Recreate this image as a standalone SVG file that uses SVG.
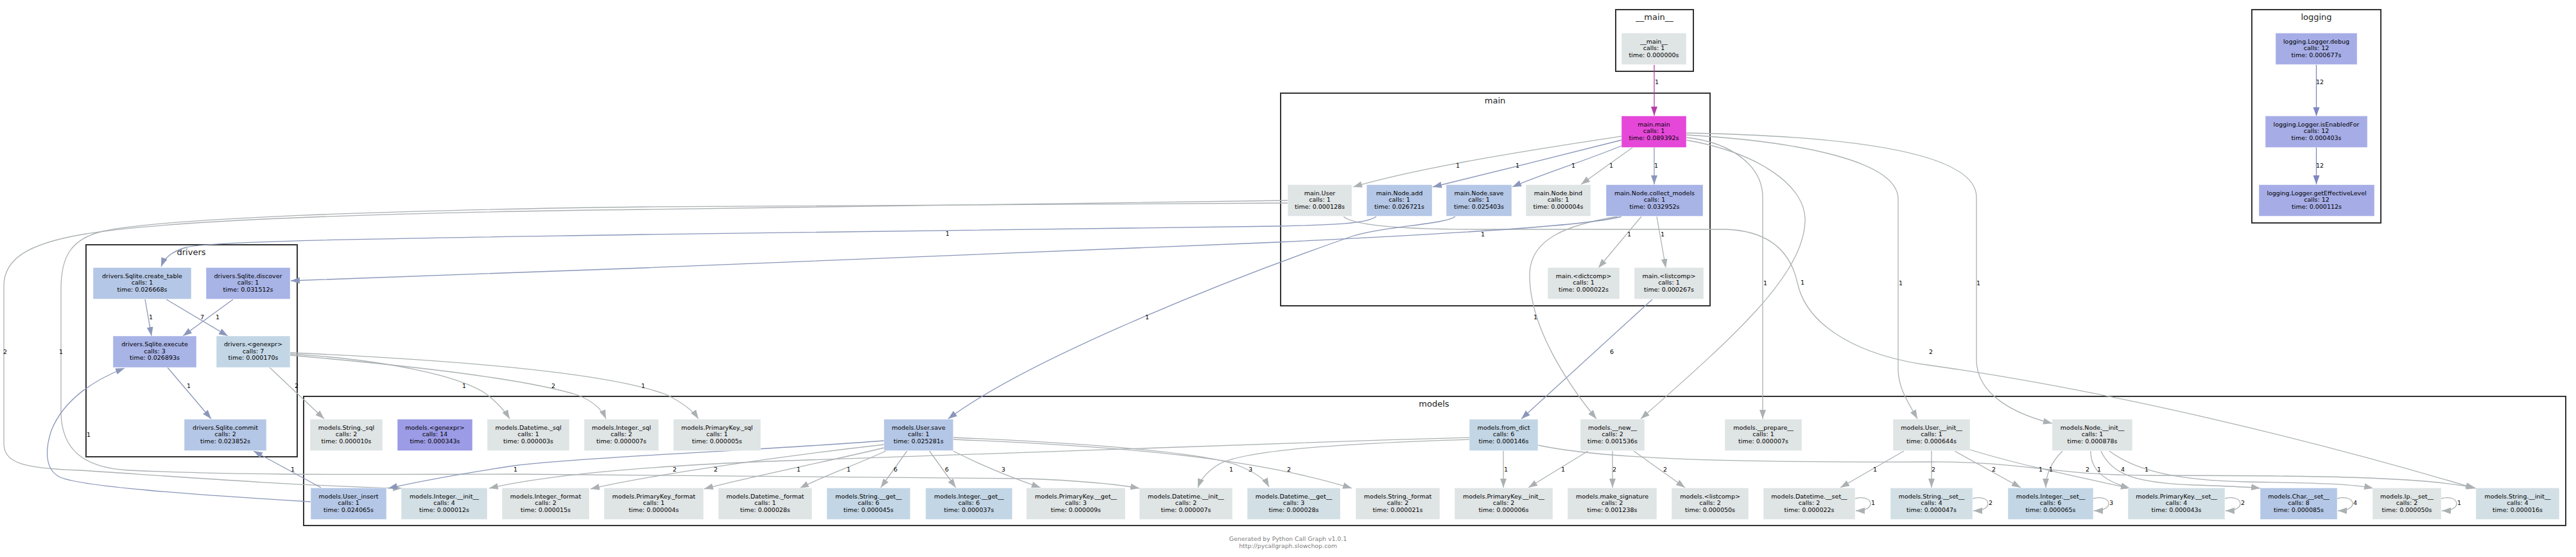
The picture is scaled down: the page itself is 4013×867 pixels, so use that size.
<svg xmlns="http://www.w3.org/2000/svg" width="4013" height="867" viewBox="0 0 4013 867">
<style>
text{font-family:"DejaVu Sans",Verdana,sans-serif;fill:#000}
.nt{font-size:9.5px;text-anchor:middle}
.el{font-size:9.5px;text-anchor:middle}
.cl{font-size:13px;text-anchor:middle;fill:#222}
.ft{font-size:9.33px;text-anchor:middle;fill:#808080}
.cluster{fill:none;stroke:#333;stroke-width:2}
rect.n{stroke:#ffffff;stroke-opacity:0.45;stroke-width:1}
.n0{fill:#dfe4e5}.n1{fill:#d2dfe5}.n2{fill:#c3d6e5}.n3{fill:#b5c7e6}.n4{fill:#a8b3e6}.n4l{fill:#a6ade6}.n5{fill:#9c9be5}.n6{fill:#e548d8}
.eg{fill:none;stroke:#abb1b3;stroke-width:1.3;marker-end:url(#ag)}
.eb{fill:none;stroke:#8b97ba;stroke-width:1.3;marker-end:url(#ab)}
.em{fill:none;stroke:#b23fa9;stroke-width:1.3;marker-end:url(#am)}
.elg{fill:none;stroke:#7f86c1;stroke-width:1.3;marker-end:url(#al)}
</style>
<defs>
<marker id="ag" markerUnits="userSpaceOnUse" markerWidth="15" markerHeight="11" refX="14" refY="5" orient="auto"><path d="M0,0 L14,5 L0,10 z" fill="#abb1b3"/></marker>
<marker id="ab" markerUnits="userSpaceOnUse" markerWidth="15" markerHeight="11" refX="14" refY="5" orient="auto"><path d="M0,0 L14,5 L0,10 z" fill="#8b97ba"/></marker>
<marker id="am" markerUnits="userSpaceOnUse" markerWidth="15" markerHeight="11" refX="14" refY="5" orient="auto"><path d="M0,0 L14,5 L0,10 z" fill="#b23fa9"/></marker>
<marker id="al" markerUnits="userSpaceOnUse" markerWidth="15" markerHeight="11" refX="14" refY="5" orient="auto"><path d="M0,0 L14,5 L0,10 z" fill="#7f86c1"/></marker>
</defs>
<rect x="0" y="0" width="4013" height="867" fill="#ffffff"/>

<g id="clusters">
<g id="cluster___main__"><rect class="cluster" x="2517" y="15" width="121" height="96"/><text class="cl" x="2577.5" y="31">__main__</text></g>
<g id="cluster_main"><rect class="cluster" x="1995" y="145" width="669" height="331"/><text class="cl" x="2329" y="161">main</text></g>
<g id="cluster_logging"><rect class="cluster" x="3508" y="15" width="201" height="332"/><text class="cl" x="3608.5" y="31">logging</text></g>
<g id="cluster_drivers"><rect class="cluster" x="134" y="381" width="329" height="330"/><text class="cl" x="298" y="397">drivers</text></g>
<g id="cluster_models"><rect class="cluster" x="473" y="617" width="3524" height="201"/><text class="cl" x="2234" y="633">models</text></g>
</g>

<g id="edges">
<path class="em" d="M2577,101 L2577,180"/><text class="el" x="2581" y="130.5">1</text>
<path class="elg" d="M3608.5,101 L3608.5,181"/><text class="el" x="3614" y="130.5">12</text>
<path class="elg" d="M3608.5,229 L3608.5,287"/><text class="el" x="3614" y="260.5">12</text>

<path class="eg" d="M2526,212 C2420,228 2220,258 2108,291"/><text class="el" x="2271" y="260.5">1</text>
<path class="eb" d="M2526,218 C2440,240 2310,272 2232,291"/><text class="el" x="2364" y="260.5">1</text>
<path class="eb" d="M2526,227 C2470,250 2400,272 2356,291"/><text class="el" x="2451" y="260.5">1</text>
<path class="eg" d="M2544,229 L2463,287"/><text class="el" x="2510" y="260.5">1</text>
<path class="eb" d="M2577,229 L2577,287"/><text class="el" x="2580" y="260.5">1</text>
<path class="eg" d="M2557,337 L2490,417"/><text class="el" x="2538" y="367.5">1</text>
<path class="eg" d="M2581,337 L2595,417"/><text class="el" x="2590" y="367.5">1</text>
<path class="eb" d="M2574,466 L2370,652"/><text class="el" x="2511" y="550.5">6</text>
<path class="eg" d="M2520,337 C2440,350 2385,372 2383,425 C2381,505 2440,595 2487,652"/><text class="el" x="2392" y="496.5">1</text>
<path class="eg" d="M2627,218 C2740,238 2815,290 2812,345 C2808,430 2700,525 2556,652"/><text class="el" x="2808" y="442.5">1</text>
<path class="eg" d="M2627,214 C2700,222 2746,260 2746,307 L2746,652"/><text class="el" x="2750" y="443.5">1</text>
<path class="eg" d="M2627,210 C2800,220 2957,250 2957,310 L2957,575 C2957,605 2975,630 2987,652"/><text class="el" x="2961" y="443.5">1</text>
<path class="eg" d="M2627,207 C2900,212 3079,240 3079,307 L3079,560 C3079,615 3140,645 3197,659"/><text class="el" x="3082" y="443.5">1</text>
<path class="eg" d="M2093,337 C2110,352 2200,357 2300,357 L2690,357 C2760,360 2790,395 2800,440 C2815,510 2900,555 3009,569 C3300,610 3620,690 3855,760"/><text class="el" x="3008" y="550.5">2</text>
<path class="eg" d="M2006,312 L1003,326 C600,331 260,342 128,365 C40,380 6,405 6,445 L6,690 C6,722 40,729 122,732 C200,736 420,755 626,760"/><text class="el" x="8" y="550.5">2</text>
<path class="eg" d="M2006,316 L1003,322 C600,327 250,340 160,360 C110,372 95,400 95,450 L95,640 C95,700 130,728 200,732 C400,741 600,738 800,738 C1200,740 1500,742 1600,745 C1680,748 1730,752 1775,760"/><text class="el" x="95" y="550.5">1</text>
<path class="eb" d="M2144,337 C2130,348 2080,350 1990,352 L1003,365 C700,370 330,374 290,385 C266,392 256,402 251,415"/><text class="el" x="1476" y="366.5">1</text>
<path class="eb" d="M2526,337 C2480,350 2300,362 1990,377 L1003,417 C800,425 600,432 453,437"/><text class="el" x="2310" y="367.5">1</text>
<path class="eb" d="M2267,337 C2250,350 2150,352 2100,370 C1900,440 1600,560 1477,652"/><text class="el" x="1787" y="496.5">1</text>

<path class="eb" d="M226,466 L236,523"/><text class="el" x="235" y="496.5">1</text>
<path class="eb" d="M259,466 L355,523"/><text class="el" x="315" y="496.5">7</text>
<path class="eb" d="M363,466 L285,523"/><text class="el" x="339" y="496.5">1</text>
<path class="eb" d="M261,572 L329,652"/><text class="el" x="294" y="603.5">1</text>
<path class="eg" d="M420,572 L505,652"/><text class="el" x="462" y="603.5">2</text>
<path class="eg" d="M452,551 C600,560 720,585 760,615 C778,630 788,642 794,652"/><text class="el" x="723" y="603.5">1</text>
<path class="eg" d="M452,553 C650,570 820,590 900,615 C925,625 938,638 944,652"/><text class="el" x="862" y="603.5">2</text>
<path class="eg" d="M452,549 C700,560 950,580 1040,615 C1065,628 1080,640 1088,652"/><text class="el" x="1002" y="603.5">1</text>
<path class="eb" d="M500,759 L395,702"/><text class="el" x="456" y="733.5">1</text>
<path class="eb" d="M484,781 C300,770 120,757 92,742 C70,730 70,700 80,670 C100,620 150,590 194,573"/><text class="el" x="138" y="679.5">1</text>

<path class="eb" d="M1377,686 C1200,700 900,712 800,725 C700,740 650,750 605,760"/><text class="el" x="803" y="733.5">1</text>
<path class="eg" d="M1377,692 C1200,712 1000,742 920,761"/><text class="el" x="1115" y="733.5">2</text>
<path class="eg" d="M1377,697 C1300,716 1150,746 1097,761"/><text class="el" x="1244" y="733.5">1</text>
<path class="eg" d="M1380,702 C1330,725 1280,742 1246,760"/><text class="el" x="1322" y="733.5">1</text>
<path class="eg" d="M1413,702 L1372,759"/><text class="el" x="1395" y="733.5">6</text>
<path class="eg" d="M1448,702 L1489,759"/><text class="el" x="1475" y="733.5">6</text>
<path class="eg" d="M1485,702 C1530,725 1580,745 1621,759"/><text class="el" x="1563" y="733.5">3</text>
<path class="eg" d="M1485,681 C1700,690 1880,705 1930,725 C1955,735 1970,745 1977,758"/><text class="el" x="1948" y="733.5">3</text>
<path class="eg" d="M1485,684 C1750,695 1950,712 2106,760"/><text class="el" x="2008" y="733.5">2</text>
<path class="eg" d="M2289,681 C1900,692 1500,705 1200,718 C1000,726 850,740 762,760"/><text class="el" x="1051" y="733.5">2</text>
<path class="eg" d="M2289,684 C2100,690 1930,700 1895,725 C1880,735 1870,748 1866,759"/><text class="el" x="1918" y="733.5">1</text>
<path class="eg" d="M2342,701 L2342,759"/><text class="el" x="2346" y="733.5">1</text>
<path class="eg" d="M2396,693 C2500,715 2700,720 3009,719 C3150,718 3200,740 3350,740 C3600,740 3780,742 3857,760"/><text class="el" x="3252" y="733.5">2</text>
<path class="eg" d="M2474,702 L2381,759"/><text class="el" x="2435" y="733.5">1</text>
<path class="eg" d="M2512,702 L2512,759"/><text class="el" x="2515" y="733.5">2</text>
<path class="eg" d="M2545,702 L2625,759"/><text class="el" x="2594" y="733.5">2</text>
<path class="eg" d="M2966,702 L2867,759"/><text class="el" x="2921" y="733.5">1</text>
<path class="eg" d="M3009,702 L3009,759"/><text class="el" x="3012" y="733.5">2</text>
<path class="eg" d="M3045,702 L3148,759"/><text class="el" x="3106" y="733.5">2</text>
<path class="eg" d="M3069,700 C3150,725 3250,745 3318,760"/><text class="el" x="3179" y="733.5">1</text>
<path class="eg" d="M3213,702 C3195,720 3187,738 3187,759"/><text class="el" x="3195" y="733.5">1</text>
<path class="eg" d="M3257,702 C3257,728 3272,747 3318,760"/><text class="el" x="3270" y="733.5">1</text>
<path class="eg" d="M3273,702 C3290,740 3330,752 3420,755 C3480,757 3505,758 3521,760"/><text class="el" x="3307" y="733.5">4</text>
<path class="eg" d="M3286,702 C3330,735 3400,748 3500,750 C3600,752 3660,752 3697,760"/><text class="el" x="3344" y="733.5">1</text>

<path class="eg" d="M2890,776 C2906,772 2914,778 2914,784 C2914,791 2904,795 2891,795"/><text class="el" x="2918" y="785.5">1</text>
<path class="eg" d="M3073,776 C3089,772 3097,778 3097,784 C3097,791 3087,795 3074,795"/><text class="el" x="3101" y="785.5">2</text>
<path class="eg" d="M3261,776 C3277,772 3285,778 3285,784 C3285,791 3275,795 3262,795"/><text class="el" x="3289" y="785.5">3</text>
<path class="eg" d="M3466,776 C3482,772 3490,778 3490,784 C3490,791 3480,795 3467,795"/><text class="el" x="3494" y="785.5">2</text>
<path class="eg" d="M3641,776 C3657,772 3665,778 3665,784 C3665,791 3655,795 3642,795"/><text class="el" x="3669" y="785.5">4</text>
<path class="eg" d="M3803,776 C3819,772 3827,778 3827,784 C3827,791 3817,795 3804,795"/><text class="el" x="3831" y="785.5">1</text>
</g>

<g id="node___main__"><rect class="n n0" x="2526" y="51.5" width="101" height="49"/><text class="nt"><tspan x="2576.5" y="67.5">__main__</tspan><tspan x="2576.5" y="78">calls: 1</tspan><tspan x="2576.5" y="88.5">time: 0.000000s</tspan></text></g>
<g id="node_logging.Logger.debug"><rect class="n n4l" x="3545" y="51.5" width="127" height="49"/><text class="nt"><tspan x="3608.5" y="67.5">logging.Logger.debug</tspan><tspan x="3608.5" y="78">calls: 12</tspan><tspan x="3608.5" y="88.5">time: 0.000677s</tspan></text></g>
<g id="node_logging.Logger.isEnabledFor"><rect class="n n4l" x="3529" y="180.5" width="159" height="49"/><text class="nt"><tspan x="3608.5" y="196.5">logging.Logger.isEnabledFor</tspan><tspan x="3608.5" y="207">calls: 12</tspan><tspan x="3608.5" y="217.5">time: 0.000403s</tspan></text></g>
<g id="node_logging.Logger.getEffectiveLevel"><rect class="n n4l" x="3519" y="287.5" width="180" height="49"/><text class="nt"><tspan x="3609" y="303.5">logging.Logger.getEffectiveLevel</tspan><tspan x="3609" y="314">calls: 12</tspan><tspan x="3609" y="324.5">time: 0.000112s</tspan></text></g>

<g id="node_main.main"><rect class="n n6" x="2526" y="180.5" width="101" height="49"/><text class="nt"><tspan x="2576.5" y="196.5">main.main</tspan><tspan x="2576.5" y="207">calls: 1</tspan><tspan x="2576.5" y="217.5">time: 0.089392s</tspan></text></g>
<g id="node_main.User"><rect class="n n0" x="2006" y="287.5" width="100" height="49"/><text class="nt"><tspan x="2056" y="303.5">main.User</tspan><tspan x="2056" y="314">calls: 1</tspan><tspan x="2056" y="324.5">time: 0.000128s</tspan></text></g>
<g id="node_main.Node.add"><rect class="n n3" x="2129" y="287.5" width="102" height="49"/><text class="nt"><tspan x="2180" y="303.5">main.Node.add</tspan><tspan x="2180" y="314">calls: 1</tspan><tspan x="2180" y="324.5">time: 0.026721s</tspan></text></g>
<g id="node_main.Node.save"><rect class="n n3" x="2253" y="287.5" width="102" height="49"/><text class="nt"><tspan x="2304" y="303.5">main.Node.save</tspan><tspan x="2304" y="314">calls: 1</tspan><tspan x="2304" y="324.5">time: 0.025403s</tspan></text></g>
<g id="node_main.Node.bind"><rect class="n n0" x="2377" y="287.5" width="101" height="49"/><text class="nt"><tspan x="2427.5" y="303.5">main.Node.bind</tspan><tspan x="2427.5" y="314">calls: 1</tspan><tspan x="2427.5" y="324.5">time: 0.000004s</tspan></text></g>
<g id="node_main.Node.collect_models"><rect class="n n4" x="2502" y="287.5" width="151" height="49"/><text class="nt"><tspan x="2577.5" y="303.5">main.Node.collect_models</tspan><tspan x="2577.5" y="314">calls: 1</tspan><tspan x="2577.5" y="324.5">time: 0.032952s</tspan></text></g>
<g id="node_main.dictcomp"><rect class="n n0" x="2411" y="416.5" width="112" height="49"/><text class="nt"><tspan x="2467" y="432.5">main.&lt;dictcomp&gt;</tspan><tspan x="2467" y="443">calls: 1</tspan><tspan x="2467" y="453.5">time: 0.000022s</tspan></text></g>
<g id="node_main.listcomp"><rect class="n n0" x="2546" y="416.5" width="108" height="49"/><text class="nt"><tspan x="2600" y="432.5">main.&lt;listcomp&gt;</tspan><tspan x="2600" y="443">calls: 1</tspan><tspan x="2600" y="453.5">time: 0.000267s</tspan></text></g>

<g id="node_drivers.Sqlite.create_table"><rect class="n n3" x="145" y="416.5" width="153" height="49"/><text class="nt"><tspan x="221.5" y="432.5">drivers.Sqlite.create_table</tspan><tspan x="221.5" y="443">calls: 1</tspan><tspan x="221.5" y="453.5">time: 0.026668s</tspan></text></g>
<g id="node_drivers.Sqlite.discover"><rect class="n n4" x="321" y="416.5" width="131" height="49"/><text class="nt"><tspan x="386.5" y="432.5">drivers.Sqlite.discover</tspan><tspan x="386.5" y="443">calls: 1</tspan><tspan x="386.5" y="453.5">time: 0.031512s</tspan></text></g>
<g id="node_drivers.Sqlite.execute"><rect class="n n4" x="176" y="523" width="130" height="49"/><text class="nt"><tspan x="241" y="539">drivers.Sqlite.execute</tspan><tspan x="241" y="549.5">calls: 3</tspan><tspan x="241" y="560">time: 0.026893s</tspan></text></g>
<g id="node_drivers.genexpr"><rect class="n n2" x="337" y="523" width="115" height="49"/><text class="nt"><tspan x="394.5" y="539">drivers.&lt;genexpr&gt;</tspan><tspan x="394.5" y="549.5">calls: 7</tspan><tspan x="394.5" y="560">time: 0.000170s</tspan></text></g>
<g id="node_drivers.Sqlite.commit"><rect class="n n3" x="287" y="652.5" width="128" height="49"/><text class="nt"><tspan x="351" y="668.5">drivers.Sqlite.commit</tspan><tspan x="351" y="679">calls: 2</tspan><tspan x="351" y="689.5">time: 0.023852s</tspan></text></g>

<g id="node_models.String._sql"><rect class="n n0" x="483" y="652.5" width="113" height="49"/><text class="nt"><tspan x="539.5" y="668.5">models.String._sql</tspan><tspan x="539.5" y="679">calls: 2</tspan><tspan x="539.5" y="689.5">time: 0.000010s</tspan></text></g>
<g id="node_models.genexpr"><rect class="n n5" x="619" y="652.5" width="117" height="49"/><text class="nt"><tspan x="677.5" y="668.5">models.&lt;genexpr&gt;</tspan><tspan x="677.5" y="679">calls: 14</tspan><tspan x="677.5" y="689.5">time: 0.000343s</tspan></text></g>
<g id="node_models.Datetime._sql"><rect class="n n0" x="759" y="652.5" width="128" height="49"/><text class="nt"><tspan x="823" y="668.5">models.Datetime._sql</tspan><tspan x="823" y="679">calls: 1</tspan><tspan x="823" y="689.5">time: 0.000003s</tspan></text></g>
<g id="node_models.Integer._sql"><rect class="n n0" x="910" y="652.5" width="116" height="49"/><text class="nt"><tspan x="968" y="668.5">models.Integer._sql</tspan><tspan x="968" y="679">calls: 2</tspan><tspan x="968" y="689.5">time: 0.000007s</tspan></text></g>
<g id="node_models.PrimaryKey._sql"><rect class="n n0" x="1049" y="652.5" width="136" height="49"/><text class="nt"><tspan x="1117" y="668.5">models.PrimaryKey._sql</tspan><tspan x="1117" y="679">calls: 1</tspan><tspan x="1117" y="689.5">time: 0.000005s</tspan></text></g>
<g id="node_models.User.save"><rect class="n n3" x="1377" y="652.5" width="108" height="49"/><text class="nt"><tspan x="1431" y="668.5">models.User.save</tspan><tspan x="1431" y="679">calls: 1</tspan><tspan x="1431" y="689.5">time: 0.025281s</tspan></text></g>
<g id="node_models.from_dict"><rect class="n n2" x="2289" y="652.5" width="107" height="49"/><text class="nt"><tspan x="2342.5" y="668.5">models.from_dict</tspan><tspan x="2342.5" y="679">calls: 6</tspan><tspan x="2342.5" y="689.5">time: 0.000146s</tspan></text></g>
<g id="node_models.__new__"><rect class="n n0" x="2462" y="652.5" width="100" height="49"/><text class="nt"><tspan x="2512" y="668.5">models.__new__</tspan><tspan x="2512" y="679">calls: 2</tspan><tspan x="2512" y="689.5">time: 0.001536s</tspan></text></g>
<g id="node_models.__prepare__"><rect class="n n0" x="2687" y="652.5" width="120" height="49"/><text class="nt"><tspan x="2747" y="668.5">models.__prepare__</tspan><tspan x="2747" y="679">calls: 1</tspan><tspan x="2747" y="689.5">time: 0.000007s</tspan></text></g>
<g id="node_models.User.__init__"><rect class="n n0" x="2949" y="652.5" width="120" height="49"/><text class="nt"><tspan x="3009" y="668.5">models.User.__init__</tspan><tspan x="3009" y="679">calls: 1</tspan><tspan x="3009" y="689.5">time: 0.000644s</tspan></text></g>
<g id="node_models.Node.__init__"><rect class="n n0" x="3197" y="652.5" width="125" height="49"/><text class="nt"><tspan x="3259.5" y="668.5">models.Node.__init__</tspan><tspan x="3259.5" y="679">calls: 1</tspan><tspan x="3259.5" y="689.5">time: 0.000878s</tspan></text></g>

<g id="node_models.User._insert"><rect class="n n3" x="484" y="759.5" width="118" height="49"/><text class="nt"><tspan x="543" y="775.5">models.User._insert</tspan><tspan x="543" y="786">calls: 1</tspan><tspan x="543" y="796.5">time: 0.024065s</tspan></text></g>
<g id="node_models.Integer.__init__"><rect class="n n1" x="625" y="759.5" width="134" height="49"/><text class="nt"><tspan x="692" y="775.5">models.Integer.__init__</tspan><tspan x="692" y="786">calls: 4</tspan><tspan x="692" y="796.5">time: 0.000012s</tspan></text></g>
<g id="node_models.Integer._format"><rect class="n n0" x="782" y="759.5" width="136" height="49"/><text class="nt"><tspan x="850" y="775.5">models.Integer._format</tspan><tspan x="850" y="786">calls: 2</tspan><tspan x="850" y="796.5">time: 0.000015s</tspan></text></g>
<g id="node_models.PrimaryKey._format"><rect class="n n0" x="941" y="759.5" width="155" height="49"/><text class="nt"><tspan x="1018.5" y="775.5">models.PrimaryKey._format</tspan><tspan x="1018.5" y="786">calls: 1</tspan><tspan x="1018.5" y="796.5">time: 0.000004s</tspan></text></g>
<g id="node_models.Datetime._format"><rect class="n n0" x="1119" y="759.5" width="146" height="49"/><text class="nt"><tspan x="1192" y="775.5">models.Datetime._format</tspan><tspan x="1192" y="786">calls: 1</tspan><tspan x="1192" y="796.5">time: 0.000028s</tspan></text></g>
<g id="node_models.String.__get__"><rect class="n n2" x="1288" y="759.5" width="130" height="49"/><text class="nt"><tspan x="1353" y="775.5">models.String.__get__</tspan><tspan x="1353" y="786">calls: 6</tspan><tspan x="1353" y="796.5">time: 0.000045s</tspan></text></g>
<g id="node_models.Integer.__get__"><rect class="n n2" x="1442" y="759.5" width="135" height="49"/><text class="nt"><tspan x="1509.5" y="775.5">models.Integer.__get__</tspan><tspan x="1509.5" y="786">calls: 6</tspan><tspan x="1509.5" y="796.5">time: 0.000037s</tspan></text></g>
<g id="node_models.PrimaryKey.__get__"><rect class="n n0" x="1599" y="759.5" width="154" height="49"/><text class="nt"><tspan x="1676" y="775.5">models.PrimaryKey.__get__</tspan><tspan x="1676" y="786">calls: 3</tspan><tspan x="1676" y="796.5">time: 0.000009s</tspan></text></g>
<g id="node_models.Datetime.__init__"><rect class="n n0" x="1775" y="759.5" width="145" height="49"/><text class="nt"><tspan x="1847.5" y="775.5">models.Datetime.__init__</tspan><tspan x="1847.5" y="786">calls: 2</tspan><tspan x="1847.5" y="796.5">time: 0.000007s</tspan></text></g>
<g id="node_models.Datetime.__get__"><rect class="n n1" x="1943" y="759.5" width="145" height="49"/><text class="nt"><tspan x="2015.5" y="775.5">models.Datetime.__get__</tspan><tspan x="2015.5" y="786">calls: 3</tspan><tspan x="2015.5" y="796.5">time: 0.000028s</tspan></text></g>
<g id="node_models.String._format"><rect class="n n0" x="2112" y="759.5" width="131" height="49"/><text class="nt"><tspan x="2177.5" y="775.5">models.String._format</tspan><tspan x="2177.5" y="786">calls: 2</tspan><tspan x="2177.5" y="796.5">time: 0.000021s</tspan></text></g>
<g id="node_models.PrimaryKey.__init__"><rect class="n n0" x="2266" y="759.5" width="153" height="49"/><text class="nt"><tspan x="2342.5" y="775.5">models.PrimaryKey.__init__</tspan><tspan x="2342.5" y="786">calls: 2</tspan><tspan x="2342.5" y="796.5">time: 0.000006s</tspan></text></g>
<g id="node_models.make_signature"><rect class="n n0" x="2442" y="759.5" width="139" height="49"/><text class="nt"><tspan x="2511.5" y="775.5">models.make_signature</tspan><tspan x="2511.5" y="786">calls: 2</tspan><tspan x="2511.5" y="796.5">time: 0.001238s</tspan></text></g>
<g id="node_models.listcomp"><rect class="n n0" x="2604" y="759.5" width="120" height="49"/><text class="nt"><tspan x="2664" y="775.5">models.&lt;listcomp&gt;</tspan><tspan x="2664" y="786">calls: 2</tspan><tspan x="2664" y="796.5">time: 0.000050s</tspan></text></g>
<g id="node_models.Datetime.__set__"><rect class="n n0" x="2747" y="759.5" width="143" height="49"/><text class="nt"><tspan x="2818.5" y="775.5">models.Datetime.__set__</tspan><tspan x="2818.5" y="786">calls: 2</tspan><tspan x="2818.5" y="796.5">time: 0.000022s</tspan></text></g>
<g id="node_models.String.__set__"><rect class="n n1" x="2945" y="759.5" width="128" height="49"/><text class="nt"><tspan x="3009" y="775.5">models.String.__set__</tspan><tspan x="3009" y="786">calls: 4</tspan><tspan x="3009" y="796.5">time: 0.000047s</tspan></text></g>
<g id="node_models.Integer.__set__"><rect class="n n2" x="3128" y="759.5" width="133" height="49"/><text class="nt"><tspan x="3194.5" y="775.5">models.Integer.__set__</tspan><tspan x="3194.5" y="786">calls: 6</tspan><tspan x="3194.5" y="796.5">time: 0.000065s</tspan></text></g>
<g id="node_models.PrimaryKey.__set__"><rect class="n n1" x="3315" y="759.5" width="151" height="49"/><text class="nt"><tspan x="3390.5" y="775.5">models.PrimaryKey.__set__</tspan><tspan x="3390.5" y="786">calls: 4</tspan><tspan x="3390.5" y="796.5">time: 0.000043s</tspan></text></g>
<g id="node_models.Char.__set__"><rect class="n n3" x="3521" y="759.5" width="120" height="49"/><text class="nt"><tspan x="3581" y="775.5">models.Char.__set__</tspan><tspan x="3581" y="786">calls: 8</tspan><tspan x="3581" y="796.5">time: 0.000085s</tspan></text></g>
<g id="node_models.Ip.__set__"><rect class="n n0" x="3696" y="759.5" width="107" height="49"/><text class="nt"><tspan x="3749.5" y="775.5">models.Ip.__set__</tspan><tspan x="3749.5" y="786">calls: 2</tspan><tspan x="3749.5" y="796.5">time: 0.000050s</tspan></text></g>
<g id="node_models.String.__init__"><rect class="n n1" x="3857" y="759.5" width="130" height="49"/><text class="nt"><tspan x="3922" y="775.5">models.String.__init__</tspan><tspan x="3922" y="786">calls: 4</tspan><tspan x="3922" y="796.5">time: 0.000016s</tspan></text></g>

<g id="footer"><text class="ft" x="2006.5" y="841.5">Generated by Python Call Graph v1.0.1</text><text class="ft" x="2006.5" y="852.5">http://pycallgraph.slowchop.com</text></g>
</svg>
